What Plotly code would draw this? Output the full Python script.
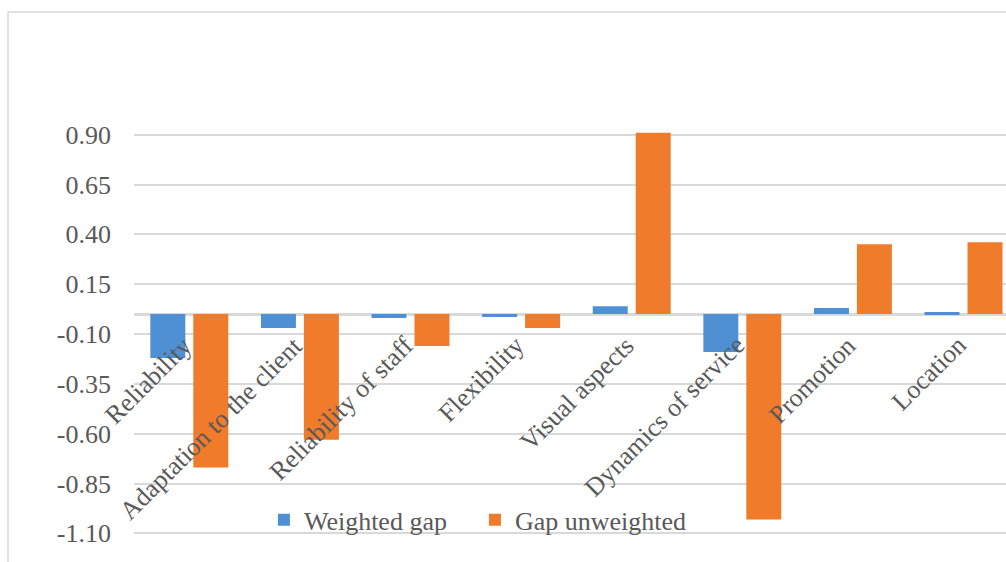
import plotly.graph_objects as go

# Service-quality dimensions and their gap scores
categories = [
    "Reliability",
    "Adaptation to the client",
    "Reliability of staff",
    "Flexibility",
    "Visual aspects",
    "Dynamics of service",
    "Promotion",
    "Location",
]
weighted_gap = [-0.22, -0.07, -0.02, -0.015, 0.04, -0.19, 0.03, 0.01]
gap_unweighted = [-0.77, -0.63, -0.16, -0.07, 0.91, -1.03, 0.35, 0.36]

tick_values = [0.90, 0.65, 0.40, 0.15, -0.10, -0.35, -0.60, -0.85, -1.10]
tick_labels = ["0.90", "0.65", "0.40", "0.15", "-0.10", "-0.35", "-0.60", "-0.85", "-1.10"]

FONT = "Liberation Serif"
TEXT = "#595959"
GRID = "#D9D9D9"
BLUE = "#4F8FD3"
ORANGE = "#EF7B2B"
SIZE = 26

x_idx = list(range(len(categories)))

fig = go.Figure()
fig.add_trace(go.Bar(x=x_idx, y=weighted_gap, name="Weighted gap",
                     marker=dict(color=BLUE, line=dict(width=0))))
fig.add_trace(go.Bar(x=x_idx, y=gap_unweighted, name="Gap unweighted",
                     marker=dict(color=ORANGE, line=dict(width=0))))

# Category labels sit just under the zero line, slanted upward
for i, name in enumerate(categories):
    fig.add_annotation(x=i, y=0, xref="x", yref="y", text=name, showarrow=False,
                       textangle=-45, xanchor="right", yanchor="top",
                       xshift=11, yshift=-14,
                       font=dict(family=FONT, size=SIZE, color=TEXT))

# Light chart border
fig.add_shape(type="rect", xref="paper", yref="paper",
              x0=-0.1445, x1=1.2, y0=-0.3, y1=1.269,
              line=dict(color=GRID, width=1.5), fillcolor="rgba(0,0,0,0)", layer="below")

fig.update_layout(
    width=1006, height=562,
    margin=dict(l=134, r=0, t=125, b=17),
    paper_bgcolor="white", plot_bgcolor="white",
    barmode="group", bargap=0.223, bargroupgap=0.186,
    font=dict(family=FONT, size=SIZE, color=TEXT),
    showlegend=True,
    legend=dict(orientation="h", x=0.149, y=0.06, xanchor="left", yanchor="middle",
                bgcolor="rgba(0,0,0,0)", font=dict(family=FONT, size=SIZE, color=TEXT),
                itemwidth=30, entrywidth=166, traceorder="normal"),
    xaxis=dict(range=[-0.5, 7.384], showticklabels=False, showgrid=False,
               zeroline=False, showline=False, ticks=""),
    yaxis=dict(range=[-1.1585, 0.9488], tickvals=tick_values, ticktext=tick_labels,
               showgrid=True, gridcolor=GRID, gridwidth=1.5,
               zeroline=True, zerolinecolor=GRID, zerolinewidth=2.5,
               showline=False, ticks="", ticklabelstandoff=22,
               tickfont=dict(family=FONT, size=SIZE, color=TEXT)),
)

fig.write_html("out.html")
